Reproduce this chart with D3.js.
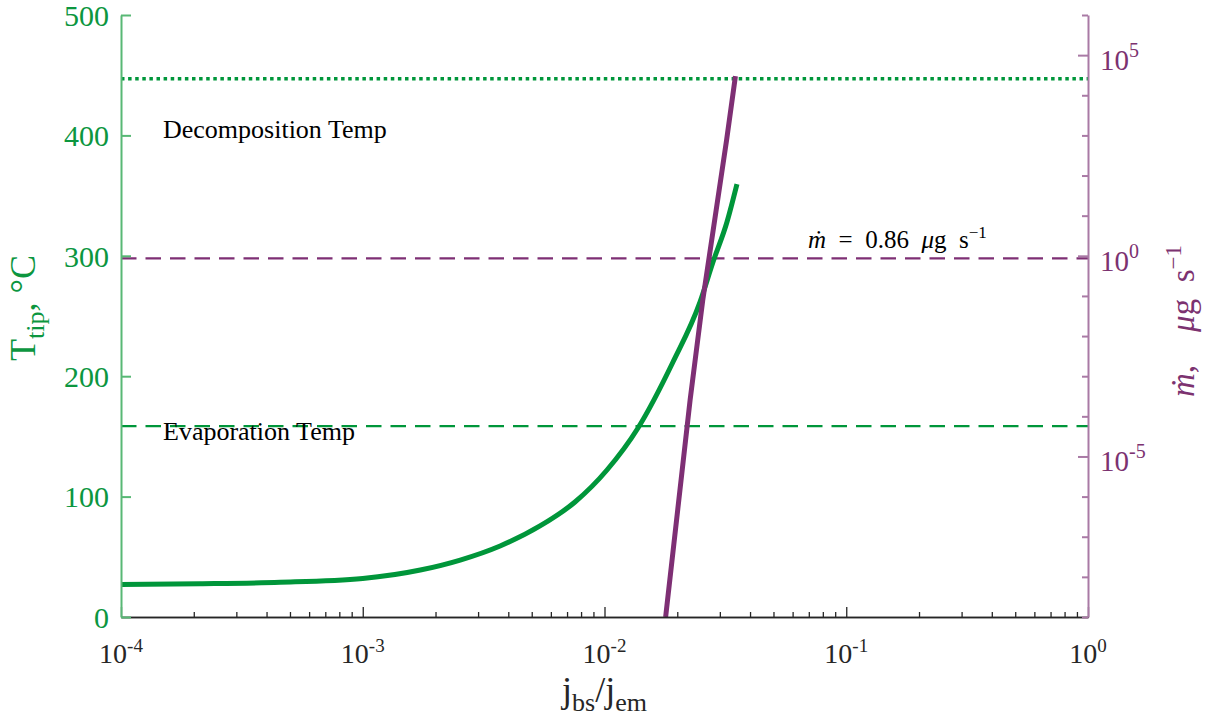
<!DOCTYPE html>
<html>
<head>
<meta charset="utf-8">
<script src="https://cdn.jsdelivr.net/npm/d3@7"></script>
<style>
  body { margin: 0; background: #fff; }
  svg { display: block; }
  svg text { font-family: "Liberation Serif", "DejaVu Serif", serif; white-space: pre; }
</style>
</head>
<body>
<svg id="chart" width="1205" height="727"></svg>
<script>
// Current ratio axis (log) and its ticks
const ratioTicks = [1e-4, 1e-3, 1e-2, 1e-1, 1];
const ratioExponents = ["-4", "-3", "-2", "-1", "0"];

// Tip temperature axis (linear, left)
const tempTicks = [0, 100, 200, 300, 400, 500];

// Mass flow rate axis (log, right)
const massTicks = [1e-9, 1e-8, 1e-7, 1e-6, 1e-5, 1e-4, 1e-3, 1e-2, 1e-1, 1, 1e1, 1e2, 1e3, 1e4, 1e5, 1e6];
const massLabelled = [1e-5, 1, 1e5];
const massExponents = ["-5", "0", "5"];

// Tip temperature (°C) vs. current ratio
const tempRatio = [1.0e-4, 2.12e-4, 4.55e-4, 1.0e-3, 1.73e-3, 2.53e-3, 3.70e-3, 5.41e-3,
                   7.55e-3, 1.024e-2, 1.376e-2, 1.92e-2, 2.483e-2, 2.811e-2, 3.211e-2, 3.532e-2];
const tempValues = [27.0, 27.6, 28.8, 32.0, 39.0, 47.3, 59.0, 75.6,
                    95.5, 122.1, 157.0, 211.8, 261.6, 294.9, 328.1, 359.6];

// Mass flow rate (µg/s) vs. current ratio
const massRatio = [0.0179, 0.0226, 0.0255, 0.0320, 0.0348];
const massValues = [1e-9, 2.55e-4, 7.9e-2, 7.7e2, 3.0e4];

// Reference levels
const decompositionTemp = 447;
const evaporationTemp = 158.5;
const targetMassRate = 0.86;

const green = "#00963a";
const greenText = "#0c963f";
const greenAxis = "#58b875";
const purple = "#7e2f74";
const purpleText = "#7c3270";
const purpleAxis = "#a97aa5";
const serif = "Liberation Serif, DejaVu Serif, serif";

const svg = d3.select("#chart");
const plotLeft = 121, plotRight = 1088, plotTop = 15, plotBottom = 617;

const x = d3.scaleLog().domain([1e-4, 1]).range([plotLeft, plotRight]);
const yT = d3.scaleLinear().domain([0, 500]).range([plotBottom, plotTop]);
const yM = d3.scaleLog().domain([1e-9, 1e6]).range([plotBottom, plotTop]);

svg.append("defs").append("clipPath").attr("id", "plot-area")
  .append("rect").attr("x", plotLeft).attr("y", plotTop)
  .attr("width", plotRight - plotLeft).attr("height", plotBottom - plotTop);

const plot = svg.append("g").attr("clip-path", "url(#plot-area)");

// Reference lines
plot.append("line")
  .attr("x1", plotLeft).attr("x2", plotRight)
  .attr("y1", yT(decompositionTemp)).attr("y2", yT(decompositionTemp))
  .attr("stroke", green).attr("stroke-width", 3.5).attr("stroke-dasharray", "3.5 3.6");
plot.append("line")
  .attr("x1", plotLeft).attr("x2", plotRight)
  .attr("y1", yT(evaporationTemp)).attr("y2", yT(evaporationTemp))
  .attr("stroke", green).attr("stroke-width", 2.2).attr("stroke-dasharray", "15.5 9");
plot.append("line")
  .attr("x1", plotLeft).attr("x2", plotRight)
  .attr("y1", yM(targetMassRate)).attr("y2", yM(targetMassRate))
  .attr("stroke", purple).attr("stroke-width", 2.2).attr("stroke-dasharray", "15.5 9");

// Temperature curve
const tempLine = d3.line()
  .x(d => x(d[0])).y(d => yT(d[1]))
  .curve(d3.curveMonotoneX);
plot.append("path")
  .datum(d3.zip(tempRatio, tempValues))
  .attr("d", tempLine)
  .attr("fill", "none").attr("stroke", green).attr("stroke-width", 5);

// Mass flow rate curve
const massLine = d3.line()
  .x(d => x(d[0])).y(d => yM(d[1]));
plot.append("path")
  .datum(d3.zip(massRatio, massValues))
  .attr("d", massLine)
  .attr("fill", "none").attr("stroke", purple).attr("stroke-width", 5);

// Annotations
svg.append("text").attr("x", 163).attr("y", 138).attr("font-family", serif)
  .attr("font-size", 26).attr("fill", "#000").text("Decomposition Temp");
svg.append("text").attr("x", 163).attr("y", 440).attr("font-family", serif)
  .attr("font-size", 26).attr("fill", "#000").text("Evaporation Temp");
const ann = svg.append("text").attr("x", 808).attr("y", 248).attr("font-family", serif)
  .attr("font-size", 25).attr("fill", "#000");
ann.append("tspan").attr("font-style", "italic").text("ṁ");
ann.append("tspan").text("\u2002=\u20020.86\u2002");
ann.append("tspan").attr("font-style", "italic").text("μ");
ann.append("tspan").text("g\u2002s");
ann.append("tspan").attr("font-size", 17).attr("dy", -10).text("−1");

// Bottom axis: major and minor ticks
const minorRatio = [];
for (let e = -4; e < 0; e++) for (let m = 2; m <= 9; m++) minorRatio.push(m * Math.pow(10, e));

const xAxisMinor = svg.append("g").attr("transform", `translate(0,${plotBottom})`)
  .call(d3.axisBottom(x).tickValues(minorRatio).tickSizeInner(-5).tickSizeOuter(0).tickFormat(() => ""));
const xAxisMajor = svg.append("g").attr("transform", `translate(0,${plotBottom})`)
  .call(d3.axisBottom(x).tickValues(ratioTicks).tickSizeInner(-10).tickSizeOuter(0).tickFormat(() => ""));
[xAxisMinor, xAxisMajor].forEach(g => {
  g.select(".domain").attr("stroke", "#262626").attr("stroke-width", 1.3);
  g.selectAll(".tick line").attr("stroke", "#262626").attr("stroke-width", 1.3);
});

const xLabels = svg.append("g").selectAll("text").data(ratioTicks).join("text")
  .attr("x", d => x(d)).attr("y", plotBottom + 46).attr("font-family", serif)
  .attr("text-anchor", "middle").attr("font-size", 28).attr("fill", "#262626");
xLabels.append("tspan").text("10");
xLabels.append("tspan").attr("font-size", 19).attr("dy", -11).text((d, i) => ratioExponents[i]);

// Left axis: temperature
const yAxisT = svg.append("g").attr("transform", `translate(${plotLeft},0)`)
  .call(d3.axisLeft(yT).tickValues(tempTicks).tickSizeInner(-10).tickSizeOuter(0).tickPadding(22));
yAxisT.attr("font-family", serif);
yAxisT.select(".domain").attr("stroke", greenAxis).attr("stroke-width", 2);
yAxisT.selectAll(".tick line").attr("stroke", greenAxis).attr("stroke-width", 2);
yAxisT.selectAll(".tick text")
  .attr("font-family", serif).attr("font-size", 30).attr("fill", greenText)
  .attr("x", -12).attr("dy", "0.34em");

// Right axis: mass flow rate
const majorLen = new Set(massLabelled);
const yAxisM = svg.append("g").attr("transform", `translate(${plotRight},0)`)
  .call(d3.axisRight(yM).tickValues(massTicks).tickSizeInner(-6).tickSizeOuter(0).tickFormat(() => ""));
yAxisM.select(".domain").attr("stroke", purpleAxis).attr("stroke-width", 2);
yAxisM.selectAll(".tick line").attr("stroke", purpleAxis).attr("stroke-width", 2)
  .attr("x2", d => majorLen.has(d) ? -10 : -6);

const mLabels = svg.append("g").selectAll("text").data(massLabelled).join("text")
  .attr("x", plotRight + 12).attr("y", d => yM(d) + 15).attr("font-family", serif)
  .attr("font-size", 29).attr("fill", purpleText);
mLabels.append("tspan").text("10");
mLabels.append("tspan").attr("font-size", 20).attr("dy", -13).text((d, i) => massExponents[i]);

// Axis titles
const tTitle = svg.append("text")
  .attr("transform", "translate(35,308) rotate(-90)").attr("font-family", serif)
  .attr("text-anchor", "middle").attr("font-size", 36).attr("fill", greenText);
tTitle.append("tspan").text("T");
tTitle.append("tspan").attr("font-size", 26).attr("dy", 9).text("tip");
tTitle.append("tspan").attr("dy", -9).text(", °C");

const mTitle = svg.append("text")
  .attr("transform", "translate(1194,321) rotate(-90)").attr("font-family", serif)
  .attr("text-anchor", "middle").attr("font-size", 33).attr("fill", purpleText);
mTitle.append("tspan").attr("font-style", "italic").text("ṁ");
mTitle.append("tspan").text(",\u2003");
mTitle.append("tspan").attr("font-style", "italic").text("μ");
mTitle.append("tspan").text("g\u2002s");
mTitle.append("tspan").attr("font-size", 23).attr("dy", -13).text("−1");

const xTitle = svg.append("text")
  .attr("x", (plotLeft + plotRight) / 2).attr("y", 702).attr("font-family", serif)
  .attr("text-anchor", "middle").attr("font-size", 36).attr("fill", "#262626");
xTitle.append("tspan").text("j");
xTitle.append("tspan").attr("font-size", 26).attr("dy", 9).text("bs");
xTitle.append("tspan").attr("dy", -9).text("/j");
xTitle.append("tspan").attr("font-size", 26).attr("dy", 9).text("em");
</script>
</body>
</html>
